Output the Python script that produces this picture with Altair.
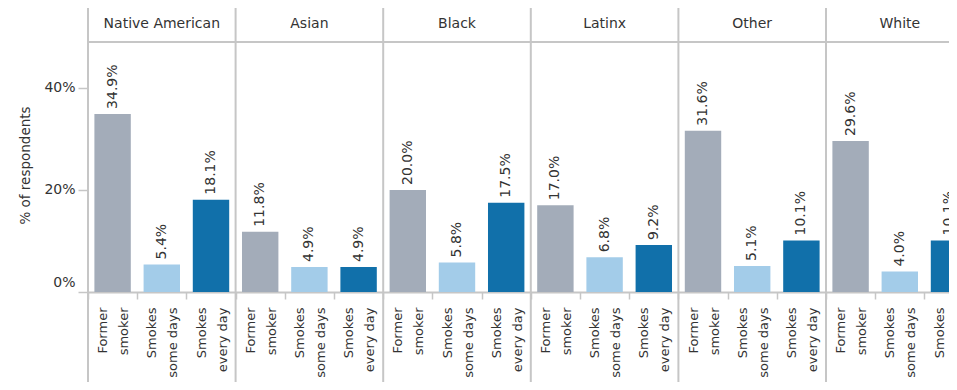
import json
import altair as alt
import pandas as pd

groups = ["Native American", "Asian", "Black", "Latinx", "Other", "White"]
categories = ["Former smoker", "Smokes some days", "Smokes every day"]
category_lines = [["Former", "smoker"], ["Smokes", "some days"], ["Smokes", "every day"]]
former_smoker = [34.9, 11.8, 20.0, 17.0, 31.6, 29.6]
some_days = [5.4, 4.9, 5.8, 6.8, 5.1, 4.0]
every_day = [18.1, 4.9, 17.5, 9.2, 10.1, 10.1]
colors = ["#a3acb9", "#a3cce9", "#1170aa"]
y_ticks = [0, 20, 40]
y_title = "% of respondents"

FONT = "DejaVu Sans"
GRID = "#c6c6c6"
TXT = "#333333"

series = [former_smoker, some_days, every_day]
rows = []
for gi, g in enumerate(groups):
    for ci, c in enumerate(categories):
        v = series[ci][gi]
        rows.append({"group": g, "category": c, "key": f"{g}|{c}",
                     "value": v, "label": f"{v:.1f}%"})
df = pd.DataFrame(rows)
keys = list(df["key"])

W, H = 861, 250
PANEL = 147.6
STEP = PANEL / 3

xscale = alt.Scale(domain=keys, range=[0, STEP * len(keys)], paddingInner=0, paddingOuter=0)
yscale = alt.Scale(domain=[0, 49])

lab = "(datum.label + '')"
parts = []
for c, lines in zip(categories, category_lines):
    parts.append(f"indexof({lab}, '|{c}') >= 0 ? {json.dumps(lines)}")
label_expr = " : ".join(parts) + " : ''"

x_axis = alt.Axis(
    title=None, labelExpr=label_expr, labelAngle=270, labelAlign="right",
    labelBaseline="middle", labelFontSize=13, labelLineHeight=21, labelPadding=8,
    labelOffset=-10, labelColor=TXT, labelFont=FONT, tickBand="extent", tickSize=7,
    tickColor=GRID, tickWidth=1.5, domainColor=GRID, domainWidth=2,
)
y_axis = alt.Axis(
    values=y_ticks, labelExpr="datum.value + '%'", title=y_title, grid=False,
    domain=False, tickSize=10, tickColor=GRID, tickWidth=1.5, labelFlush=True,
    labelFlushOffset=-3, labelFontSize=14, labelPadding=3, labelColor=TXT,
    labelFont=FONT, titleFontSize=13.5, titleFontWeight="normal", titleColor=TXT,
    titleFont=FONT, titleX=-63, titleY=123, titleAngle=270, titleBaseline="middle",
    titleAlign="center",
)


def xenc(**kw):
    return alt.X("key:N", scale=xscale, sort=keys, axis=x_axis, **kw)


def yenc():
    return alt.Y("value:Q", scale=yscale, axis=y_axis)


base = alt.Chart(df)

bars = base.mark_bar(width={"band": 0.74}).encode(
    x=xenc(),
    y=yenc(),
    color=alt.Color("category:N", scale=alt.Scale(domain=categories, range=colors), legend=None),
)

values = base.mark_text(angle=270, align="left", baseline="middle", dx=5,
                        fontSize=14, color=TXT, font=FONT).encode(
    x=xenc(),
    y=yenc(),
    text="label:N",
)

headers = alt.Chart(df[df["category"] == categories[1]]).mark_text(
    fontSize=14, color=TXT, font=FONT, align="center", baseline="middle").encode(
    x=xenc(),
    y=alt.value(-18),
    text="group:N",
)

separators = alt.Chart(df[df["category"] == categories[0]]).mark_rule(
    color=GRID, strokeWidth=2).encode(
    x=xenc(bandPosition=0),
    y=alt.value(-34),
    y2=alt.value(H + 90),
)

underline = alt.Chart(pd.DataFrame({"a": [0]})).mark_rule(
    color=GRID, strokeWidth=2).encode(
    x=alt.value(0), x2=alt.value(W), y=alt.value(0),
)

chart = alt.layer(bars, values, headers, separators, underline).properties(
    width=W, height=H,
    autosize=alt.AutoSizeParams(type="none"),
    padding={"left": 80, "top": 34, "right": 0, "bottom": 90},
    background="white",
).configure_view(stroke=None)

chart.save("out.html", embed_options={"renderer": "svg", "actions": False})
